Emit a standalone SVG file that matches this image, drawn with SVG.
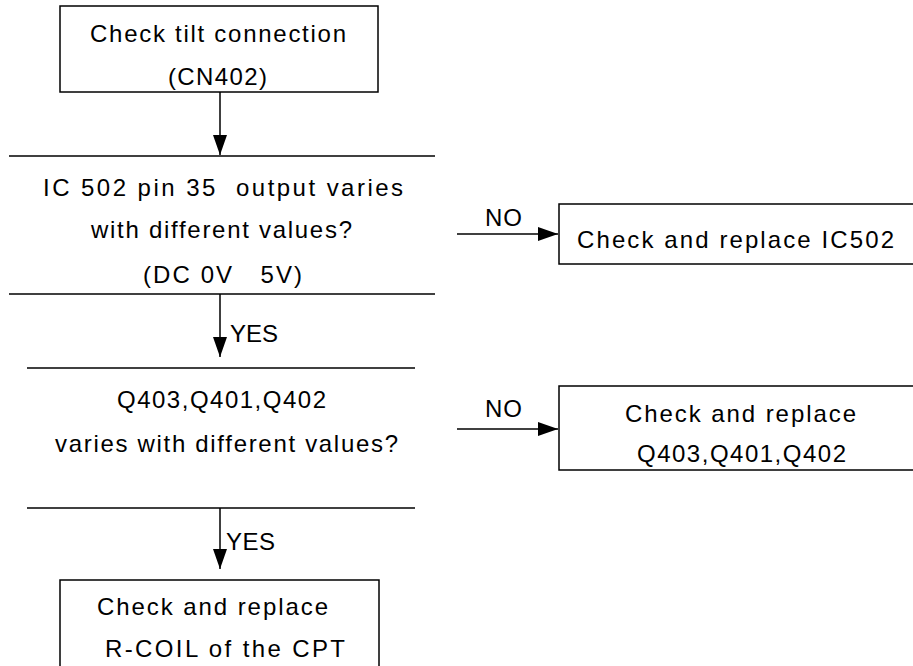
<svg xmlns="http://www.w3.org/2000/svg" width="913" height="666" viewBox="0 0 913 666">
<style>
  .box { fill: #fff; stroke: #000; stroke-width: 1.5; }
  .ln { stroke: #000; stroke-width: 1.5; fill: none; }
  .t { font-family: "Liberation Sans", Arial, sans-serif; font-size: 24px; fill: #000; white-space: pre; }
</style>
<defs>
  <marker id="ah" viewBox="0 0 20 14" refX="20" refY="7" markerWidth="20" markerHeight="14" markerUnits="userSpaceOnUse" orient="auto">
    <path d="M0,0 L20,7 L0,14 z" fill="#000"/>
  </marker>
</defs>
<rect width="913" height="666" fill="#fff"/>

<g id="start">
  <rect class="box" x="60" y="6" width="318" height="86"/>
  <text class="t" x="90" y="42" textLength="256" lengthAdjust="spacing">Check tilt connection</text>
  <text class="t" x="168" y="85" textLength="99" lengthAdjust="spacing">(CN402)</text>
</g>

<g id="decision1">
  <line class="ln" x1="9" y1="156" x2="435" y2="156"/>
  <text class="t" x="43" y="196" textLength="360" lengthAdjust="spacing" xml:space="preserve">IC 502 pin 35  output varies</text>
  <text class="t" x="91" y="238" textLength="261" lengthAdjust="spacing">with different values?</text>
  <text class="t" x="143" y="283" textLength="159" lengthAdjust="spacing" xml:space="preserve">(DC 0V   5V)</text>
  <line class="ln" x1="9" y1="294" x2="435" y2="294"/>
</g>

<g id="replaceIC502">
  <rect class="box" x="559" y="204" width="400" height="60"/>
  <text class="t" x="577" y="248" textLength="317" lengthAdjust="spacing">Check and replace IC502</text>
</g>

<g id="decision2">
  <line class="ln" x1="27" y1="368" x2="415" y2="368"/>
  <text class="t" x="117" y="408" textLength="209" lengthAdjust="spacing">Q403,Q401,Q402</text>
  <text class="t" x="55" y="452" textLength="343" lengthAdjust="spacing">varies with different values?</text>
  <line class="ln" x1="27" y1="508" x2="415" y2="508"/>
</g>

<g id="replaceQ">
  <rect class="box" x="559" y="386" width="400" height="84"/>
  <text class="t" x="625" y="422" textLength="231" lengthAdjust="spacing">Check and replace</text>
  <text class="t" x="637" y="462" textLength="209" lengthAdjust="spacing">Q403,Q401,Q402</text>
</g>

<g id="replaceCoil">
  <rect class="box" x="60" y="580" width="319" height="100"/>
  <text class="t" x="97" y="615" textLength="231" lengthAdjust="spacing">Check and replace</text>
  <text class="t" x="105" y="657" textLength="240" lengthAdjust="spacing">R-COIL of the CPT</text>
</g>

<g id="connectors">
  <line class="ln" x1="220" y1="92" x2="220" y2="155" marker-end="url(#ah)"/>
  <line class="ln" x1="220" y1="294" x2="220" y2="357" marker-end="url(#ah)"/>
  <text class="t" x="230" y="342" textLength="48" lengthAdjust="spacing">YES</text>
  <line class="ln" x1="220" y1="508" x2="220" y2="569" marker-end="url(#ah)"/>
  <text class="t" x="226" y="550" textLength="49" lengthAdjust="spacing">YES</text>
  <line class="ln" x1="457" y1="234" x2="558" y2="234" marker-end="url(#ah)"/>
  <text class="t" x="485" y="226" textLength="37" lengthAdjust="spacing">NO</text>
  <line class="ln" x1="457" y1="429" x2="558" y2="429" marker-end="url(#ah)"/>
  <text class="t" x="485" y="417" textLength="37" lengthAdjust="spacing">NO</text>
</g>
</svg>
